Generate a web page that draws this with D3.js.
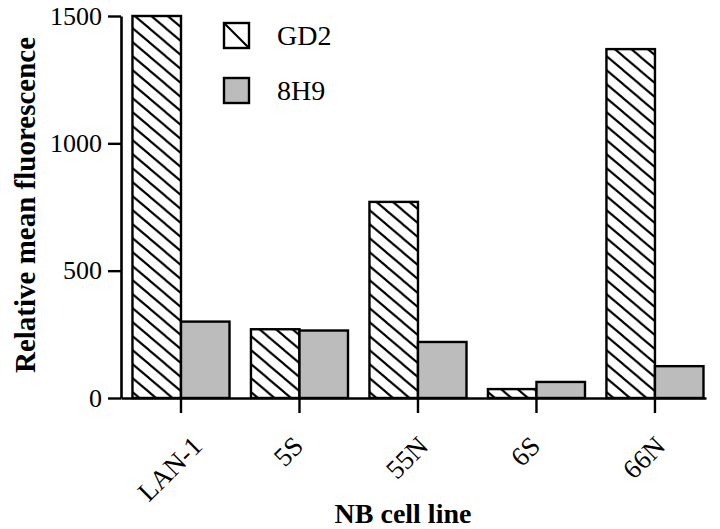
<!DOCTYPE html>
<html><head><meta charset="utf-8">
<script src="https://cdn.jsdelivr.net/npm/d3@7"></script>
<style>body{margin:0;background:#fff}svg{display:block}
svg text{font-family:"Liberation Serif","Times New Roman",Tinos,"DejaVu Serif",serif;}</style>
</head><body>
<svg id="chart" width="720" height="529"></svg>
<script>
const categories = ["LAN-1", "5S", "55N", "6S", "66N"];
const seriesNames = ["GD2", "8H9"];
const gd2Values = [1500, 270, 770, 35, 1370];
const h8h9Values = [300, 265, 220, 63, 125];
const yTicks = [0, 500, 1000, 1500];

const svg = d3.select("#chart");

const defs = svg.append("defs");
const pw = 16.5, ph = 14;
const pat = defs.append("pattern").attr("id", "hatch")
  .attr("patternUnits", "userSpaceOnUse").attr("width", pw).attr("height", ph);
pat.append("rect").attr("width", pw).attr("height", ph).attr("fill", "#fff");
pat.append("path")
  .attr("d", `M${-pw/4},${-ph/4}L${pw*1.25},${ph*1.25}M${pw*0.75},${-ph/4}L${pw*2.25},${ph*1.25}M${-pw*1.25},${-ph/4}L${pw*0.25},${ph*1.25}`)
  .attr("stroke", "#000").attr("stroke-width", 2.1);

const x0 = d3.scaleBand().domain(categories).range([121, 706])
  .paddingInner(0.181).paddingOuter(0.059).align(0.82);
const x1 = d3.scaleBand().domain(seriesNames).range([0, x0.bandwidth()]);
const y = d3.scaleLinear().domain([0, 1500]).range([398, 16]);

const rows = categories.map((c, i) => ({cat: c, vals: [
  {key: "GD2", v: gd2Values[i]}, {key: "8H9", v: h8h9Values[i]}]}));
const fills = {"GD2": "url(#hatch)", "8H9": "#bcbcbc"};

const g = svg.append("g");
g.selectAll("g.grp").data(rows).join("g").attr("class", "grp")
  .attr("transform", d => `translate(${x0(d.cat)},0)`)
  .selectAll("rect").data(d => d.vals).join("rect")
  .attr("x", d => x1(d.key)).attr("width", x1.bandwidth())
  .attr("y", d => y(d.v)).attr("height", d => y(0) - y(d.v))
  .attr("fill", d => fills[d.key])
  .attr("stroke", "#000").attr("stroke-width", 2.4);

// Y axis
const yAxis = svg.append("g").attr("transform", "translate(121,0)")
  .call(d3.axisLeft(y).tickValues(yTicks).tickSize(13).tickSizeOuter(0).tickPadding(6).tickFormat(d3.format("d")));
yAxis.attr("font-family", null);
yAxis.select(".domain").attr("stroke-width", 2.6);
yAxis.selectAll(".tick line").attr("stroke-width", 2.4);
yAxis.selectAll("text").style("font-size", "26px").attr("fill", "#000");

// X axis
const xAxis = svg.append("g").attr("transform", "translate(0,398)")
  .call(d3.axisBottom(x0).tickSize(15).tickSizeOuter(0));
xAxis.attr("font-family", null);
xAxis.select(".domain").attr("stroke-width", 2.6);
xAxis.selectAll(".tick line").attr("stroke-width", 2.4);
xAxis.selectAll("text").remove();

// rotated category labels, bbox near tick, top aligned
const labG = svg.append("g");
categories.forEach(c => {
  const t = labG.append("text").text(c)
    .style("font-size", "27px")
    .attr("text-anchor", "middle").attr("dominant-baseline", "central");
  const w = t.node().getComputedTextLength();
  const hgt = 18;
  const bb = (w + hgt) * Math.SQRT1_2;
  const cx = x0(c) + x0.bandwidth() / 2 - 11;
  const cy = 435 + bb / 2;
  t.attr("x", cx).attr("y", cy).attr("transform", `rotate(-45,${cx},${cy})`);
});

// axis titles
svg.append("text").text("Relative mean fluorescence")
  .style("font-weight", "bold").style("font-size", "29px")
  .attr("text-anchor", "middle")
  .attr("transform", "translate(35,205) rotate(-90)");
svg.append("text").text("NB cell line")
  .style("font-weight", "bold").style("font-size", "28px")
  .attr("text-anchor", "middle").attr("x", 403).attr("y", 523);

// legend
const leg = svg.append("g");
const legY = [23, 78];
seriesNames.forEach((s, i) => {
  leg.append("rect").attr("x", 224).attr("y", legY[i]).attr("width", 25).attr("height", 25)
    .attr("fill", s === "GD2" ? "#fff" : fills[s]).attr("stroke", "#000").attr("stroke-width", 2.4);
  if (s === "GD2") {
    leg.append("line").attr("x1", 224).attr("y1", legY[i]).attr("x2", 249).attr("y2", legY[i] + 25)
      .attr("stroke", "#000").attr("stroke-width", 2.1);
  }
  leg.append("text").text(s).attr("x", 277).attr("y", legY[i] + 22)
    .style("font-size", "28px").attr("fill", "#000");
});
</script>
</body></html>
